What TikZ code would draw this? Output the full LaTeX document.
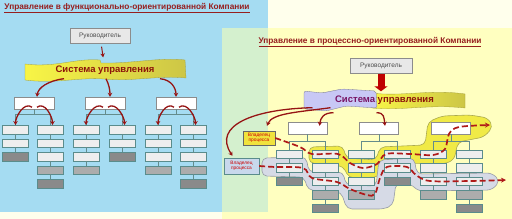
\documentclass[tikz,border=0pt]{standalone}
\usepackage{fontspec}
\setmainfont{Liberation Sans}
\usetikzlibrary{arrows.meta, positioning, calc}

\definecolor{panelblue}{RGB}{165,220,242}
\definecolor{panelgreen}{RGB}{212,240,206}
\definecolor{panelyellow}{RGB}{255,255,192}
\definecolor{cream}{RGB}{255,255,236}
\definecolor{titlered}{RGB}{150,30,30}
\definecolor{bossfill}{RGB}{232,232,232}
\definecolor{bossline}{RGB}{140,140,140}
\definecolor{boxline}{RGB}{90,140,140}
\definecolor{ltgray}{RGB}{238,238,238}
\definecolor{mdgray}{RGB}{172,172,172}
\definecolor{dkgray}{RGB}{138,138,138}
\definecolor{linkcol}{RGB}{100,140,140}
\definecolor{arrred}{RGB}{150,20,20}
\definecolor{dashred}{RGB}{175,25,25}
\definecolor{sysred}{RGB}{140,20,10}
\definecolor{syspurple}{RGB}{120,20,100}
\definecolor{banyel}{RGB}{248,245,70}
\definecolor{banolive}{RGB}{205,198,70}
\definecolor{lavender}{RGB}{200,200,245}
\definecolor{hiyellow}{RGB}{240,234,70}
\definecolor{hiyline}{RGB}{170,170,80}
\definecolor{higray}{RGB}{214,218,230}
\definecolor{higline}{RGB}{150,155,165}
\definecolor{ownyellow}{RGB}{240,226,60}
\definecolor{ownblue}{RGB}{200,216,236}

\tikzset{
  boss/.style={draw=bossline, fill=bossfill, minimum width=60pt, minimum height=15pt,
    inner sep=0pt, text=black!70, font=\fontsize{6.5}{7}\selectfont},
  chief/.style={draw=bossline, fill=white, minimum width=40pt, minimum height=12pt, inner sep=0pt},
  lt/.style={draw=boxline, fill=ltgray, minimum width=26pt, minimum height=8.5pt, inner sep=0pt},
  md/.style={lt, fill=mdgray},
  dk/.style={lt, fill=dkgray},
  link/.style={draw=linkcol, line width=0.6pt},
  redarr/.style={draw=arrred, line width=1.3pt, -{Stealth[length=4pt,width=4.5pt]}},
  blockarr/.style={draw=red!75!black, line width=7pt, -{Triangle[length=5pt,width=13pt]}},
  procpath/.style={draw=dashred, line width=1.7pt, dash pattern=on 6pt off 3pt,
    -{Stealth[length=5pt,width=5pt]}},
  owner/.style={draw, minimum height=14pt, inner sep=0pt, align=center,
    text=red!80!black, font=\fontsize{4.8}{5.5}\selectfont},
  ttl/.style={text=titlered, font=\bfseries\fontsize{8.3}{9}\selectfont},
  systxt/.style={font=\bfseries\fontsize{9.5}{11}\selectfont, minimum width=160pt, minimum height=17pt}
}

\begin{document}
\begin{tikzpicture}[x=1pt, y=-1pt]
  \useasboundingbox (0,0) rectangle (512,219);

  % ==================== PANELS ====================
  \fill[cream] (0,0) rectangle (512,219);
  \fill[panelblue] (0,0) rectangle (268,212);
  \fill[panelyellow] (222,28) rectangle (512,219);
  \fill[panelgreen] (222,28) rectangle (268,212);

  % ==================== TITLES ====================
  \node[ttl] (ltitle) at (127,8) {\underline{Управление в функционально-ориентированной Компании}};
  \node[ttl] (rtitle) at (370,42) {\underline{Управление в процессно-ориентированной Компании}};

  % ==================== FUNCTIONAL COMPANY (left) ====================
  \node[boss] (lboss) at (100,36) {Руководитель};

  % banner
  \shadedraw[left color=banyel, right color=banolive, draw=banolive!80!black, line width=0.3pt]
    (25,64) .. controls (55,68) and (75,58) .. (100,60) -- (101,63)
    .. controls (130,64) and (160,57) .. (185,60) -- (186,78)
    .. controls (160,75) and (130,82) .. (104,79)
    .. controls (80,77) and (55,84) .. (25,80) -- cycle;
  \node[systxt, text=sysred] (lsys) at (105,70) {Система управления};
  \draw[redarr, line width=1pt, shorten <=3pt, shorten >=4pt] (lboss) -- (lsys);

  % department heads
  \foreach \i/\x in {1/34, 2/105, 3/176}
    \node[chief] (lb\i) at (\x,103) {};

  % departments
  \foreach \c/\x/\kinds in {1/15.5/{lt,lt,dk}, 2/50.5/{lt,lt,lt,md,dk}, 3/86/{lt,lt,lt,md},
                            4/122.5/{lt,lt,dk}, 5/158/{lt,lt,lt,md}, 6/193.5/{lt,lt,lt,md,dk}} {
    \foreach \k [count=\r] in \kinds {
      \node[\k] (lc\c-\r) at (\x,{116+13.5*\r}) {};
      \ifnum\r>1 \pgfmathtruncatemacro\p{\r-1}\draw[link] (lc\c-\p) -- (lc\c-\r);\fi
    }
  }

  \foreach \i/\a/\b in {1/1/2, 2/3/4, 3/5/6} {
    \draw[link] (lb\i.south) -- ++(0,5) -| (lc\a-1.north);
    \draw[link] (lb\i.south) ++(0,5) -| (lc\b-1.north);
    % orders split to the two departments
    \draw[redarr] ([xshift=-2pt,yshift=2pt]lb\i.south) .. controls +(-8,-6) and +(0,-8) .. (lc\a-1.north);
    \draw[redarr] ([xshift=3pt,yshift=2pt]lb\i.south) .. controls +(8,-6) and +(0,-8) .. ([xshift=2pt]lc\b-1.north);
  }

  % orders from the banner
  \draw[redarr] ([xshift=-41pt]lsys.south) .. controls +(-16,2) and +(1,-9) .. ([xshift=3pt]lb1.north);
  \draw[redarr] ([xshift=1pt]lsys.south) .. controls +(3,6) and +(0,-7) .. ([xshift=5pt]lb2.north);
  \draw[redarr] ([xshift=55pt]lsys.south) .. controls +(12,1) and +(0,-8) .. (lb3.north);

  % ==================== PROCESS COMPANY (right) ====================
  \node[boss, minimum width=62pt] (rboss) at (381,65.5) {Руководитель};

  % banner
  \shadedraw[left color=banyel, right color=banolive, draw=banolive!80!black, line width=0.3pt]
    (372,93) .. controls (400,97) and (430,89) .. (465,94) -- (465,108)
    .. controls (430,104) and (400,111) .. (372,108) -- cycle;
  \filldraw[fill=lavender, draw=lavender!60!black, line width=0.3pt, rounded corners=2pt]
    (304,91) -- (322,93) -- (342,89) -- (376,91) -- (377,108) -- (346,106)
    -- (326,111) -- (304,109) -- cycle;
  \node[systxt, minimum width=161pt] (rsys) at (384.5,100)
    {\textcolor{syspurple}{Система} \textcolor{sysred}{управления}};
  \draw[blockarr, shorten <=1pt] (rboss.south) -- (rboss.south |- rsys.north);

  % process owners
  \node[owner, fill=ownyellow, draw=black!60, minimum width=32pt] (own1) at (259,138) {Владелец\\процесса};
  \node[owner, fill=ownblue, draw=boxline, minimum width=35pt, minimum height=16pt] (own2) at (241.5,166) {Владелец\\процесса};

  % process highlights
  \filldraw[fill=hiyellow, draw=hiyline, line width=0.6pt, rounded corners=5pt]
    (309,147) -- (343,146) -- (346,158) -- (376,160) -- (380,147) -- (425,145)
    -- (428,122) -- (442,116) -- (470,115) -- (488,118) -- (493,127) -- (484,137)
    -- (458,142) -- (454,160) -- (444,164) -- (400,163) -- (384,165) -- (379,177)
    -- (349,178) -- (343,166) -- (309,163) -- cycle;
  \filldraw[fill=higray, draw=higline, line width=0.6pt, rounded corners=5pt]
    (262,158) -- (306,157) -- (309,172) -- (343,172) -- (346,185) -- (376,186)
    -- (379,160) -- (414,158) -- (417,174) -- (492,173) -- (500,181) -- (492,190)
    -- (418,191) -- (411,184) -- (396,183) -- (393,205) -- (384,209) -- (347,209)
    -- (341,192) -- (308,190) -- (304,177) -- (262,176) -- cycle;

  % department heads
  \foreach \i/\x in {1/307.5, 2/379, 3/451}
    \node[chief, minimum width=39pt] (rb\i) at (\x,128) {};

  % departments
  \foreach \c/\x/\kinds in {1/289.5/{lt,lt,dk}, 2/325/{lt,lt,lt,md,dk}, 3/361/{lt,lt,lt,md},
                            4/397/{lt,lt,dk}, 5/433/{lt,lt,lt,md}, 6/469/{lt,lt,lt,md,dk}} {
    \foreach \k [count=\r] in \kinds {
      \node[\k] (rc\c-\r) at (\x,{140.5+13.5*\r}) {};
      \ifnum\r>1 \pgfmathtruncatemacro\p{\r-1}\draw[link] (rc\c-\p) -- (rc\c-\r);\fi
    }
  }

  \foreach \i/\a/\b in {1/1/2, 2/3/4, 3/5/6} {
    \draw[link] (rb\i.south) -- ++(0,7) -| (rc\a-1.north);
    \draw[link] (rb\i.south) ++(0,7) -| (rc\b-1.north);
  }

  % orders from the banner
  \draw[redarr] ([xshift=-51pt,yshift=-4pt]rsys.south) .. controls +(-10,0) and +(1,-8) .. ([xshift=12pt,yshift=-4pt]rb1.north);
  \draw[redarr] ([xshift=-8pt,yshift=-4pt]rsys.south) .. controls +(8,0) and +(-1,-8) .. ([xshift=6pt,yshift=-4pt]rb2.north);
  \draw[redarr] ([xshift=-54pt,yshift=1pt]rsys.south) .. controls (300,112) and (272,113) .. ([xshift=8pt,yshift=5pt]own1.north);
  \draw[redarr] ([xshift=-72pt,yshift=1pt]rsys.south) .. controls (255,109) and (212,125) .. ([xshift=-9pt,yshift=2pt]own2.north);

  % process flows
  \draw[procpath] plot[smooth, tension=0.55] coordinates {(own1.east) (300,147) (312,154) (338,154)
    (350,163) (363,168) (377,164) (386,154) (410,154) (433,155) (445,149) (449,134) (459,127) (490,125)};
  \draw[procpath] plot[smooth, tension=0.55] coordinates {(own2.east) (275,167) (303,168) (312,178)
    (337,182) (350,189) (367,195) (375,194) (380,178) (387,167) (407,167) (416,175) (430,181)
    (470,181) (506,180)};
\end{tikzpicture}
\end{document}
